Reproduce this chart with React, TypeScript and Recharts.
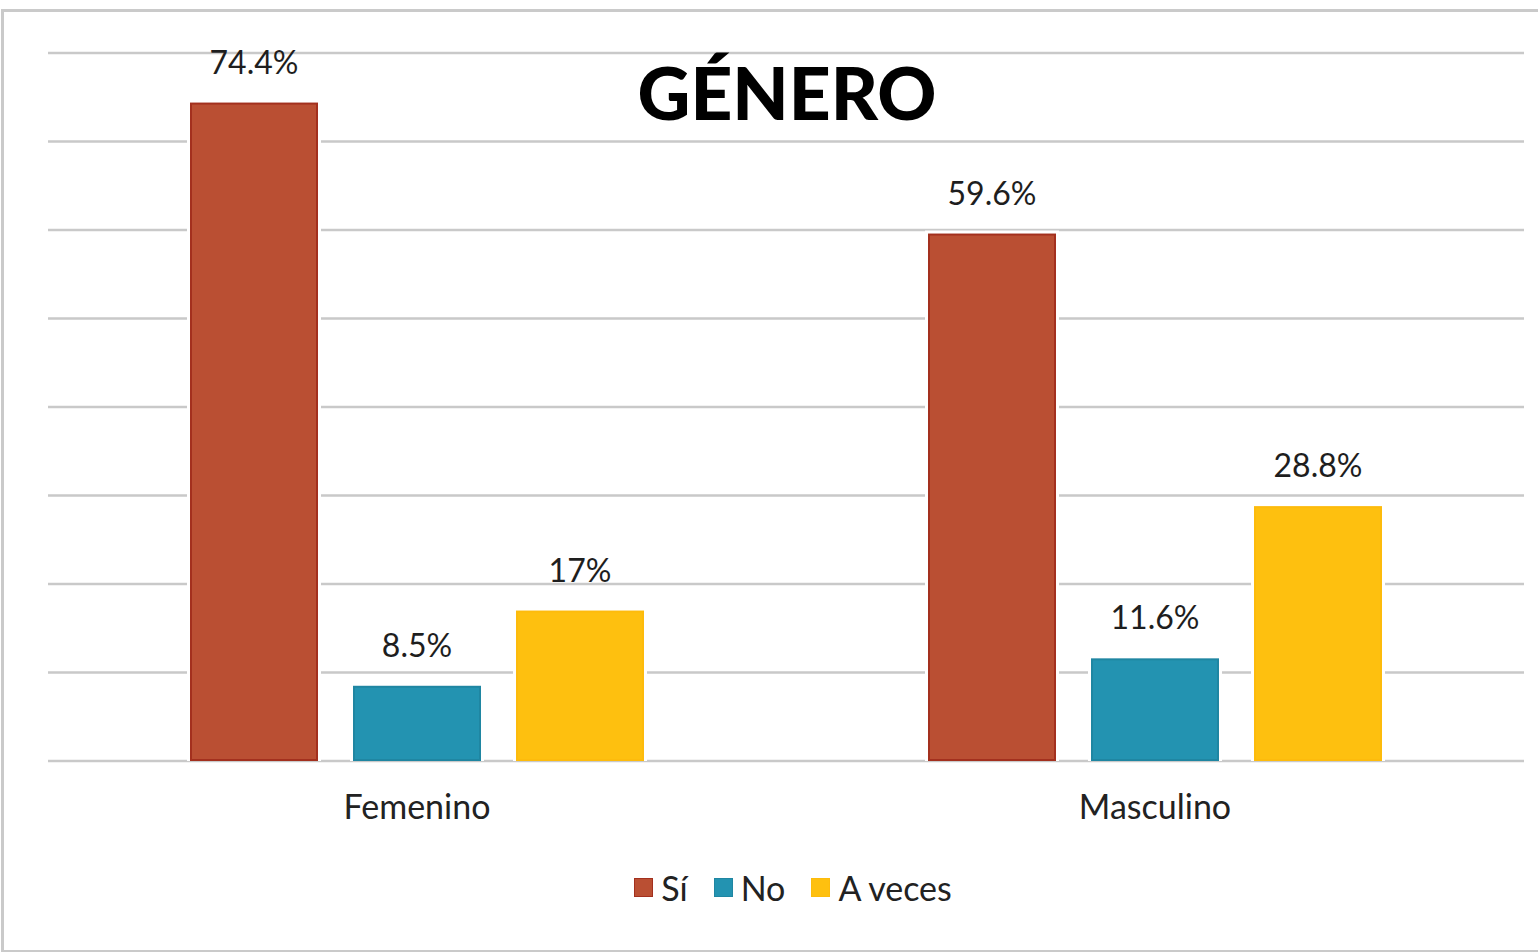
import { BarChart, Bar, XAxis, YAxis, CartesianGrid, Legend, LabelList } from "recharts";

const categories = ["Femenino", "Masculino"];
const si = [74.4, 59.6];
const no = [8.5, 11.6];
const aVeces = [17, 28.8];
const yTicks = [0, 10, 20, 30, 40, 50, 60, 70, 80];

const SERIES = [
  { key: "si", name: "Sí", fill: "#BA4F33", stroke: "#A3301E" },
  { key: "no", name: "No", fill: "#2393B1", stroke: "#1F86A2" },
  { key: "aVeces", name: "A veces", fill: "#FEC00F", stroke: "#FDBB0C" },
];

const data = categories.map((c, i) => ({
  name: c,
  si: si[i],
  no: no[i],
  aVeces: aVeces[i],
}));

const FONT = "Lato, 'Open Sans', sans-serif";

// white halo so the gridlines stop short of each bar, like the original
const haloBar = (fill: string, stroke: string) => (props: any) => {
  const { x, y, width, height } = props;
  return (
    <g>
      <rect x={x - 3} y={y - 3} width={width + 6} height={height + 3} fill="#fff" />
      <rect x={x + 1} y={y + 1} width={width - 2} height={height - 2} fill={fill} stroke={stroke} strokeWidth={2} />
    </g>
  );
};

const renderLegend = () => (
  <div
    style={{
      height: 40,
      display: "flex",
      justifyContent: "center",
      alignItems: "center",
      fontFamily: FONT,
      fontSize: 34,
      color: "#222",
    }}
  >
    {SERIES.map((s) => (
      <div key={s.key} style={{ display: "flex", alignItems: "center", margin: "0 13px" }}>
        <span
          style={{
            display: "inline-block",
            width: 19,
            height: 19,
            background: s.fill,
            border: `1px solid ${s.stroke}`,
            boxSizing: "border-box",
            marginRight: 8,
          }}
        />
        <span>{s.name}</span>
      </div>
    ))}
  </div>
);

export default function App() {
  return (
    <div style={{ position: "absolute", left: 0, top: 0, width: 1538, height: 952, background: "#fff", overflow: "hidden" }}>
      <div
        style={{
          position: "absolute",
          left: 1,
          top: 9,
          width: 1560,
          height: 938,
          border: "3px solid #cacaca",
        }}
      />
      <div style={{ position: "absolute", left: 0, top: 0 }}>
        <BarChart
          width={1538}
          height={952}
          data={data}
          margin={{ top: 53, right: 14, left: 48, bottom: 91 }}
          barSize={128}
          barGap={35}
        >
          <CartesianGrid vertical={false} stroke="#c9c9c9" strokeWidth={2.5} />
          <XAxis
            dataKey="name"
            axisLine={false}
            tickLine={false}
            height={60}
            tickMargin={28}
            tick={{ fill: "#222", fontSize: 34, fontFamily: FONT }}
          />
          <YAxis hide domain={[0, 80]} ticks={yTicks} />
          <Legend
            content={renderLegend}
            wrapperStyle={{ top: 867, bottom: "auto", left: 0, width: 1586 }}
          />
          {SERIES.map((s) => (
            <Bar
              key={s.key}
              dataKey={s.key}
              name={s.name}
              fill={s.fill}
              shape={haloBar(s.fill, s.stroke)}
              isAnimationActive={false}
            >
              <LabelList
                dataKey={s.key}
                position="top"
                offset={29}
                formatter={(v: any) => `${v}%`}
                style={{ fill: "#1e1e1e", fontSize: 32, fontFamily: FONT }}
              />
            </Bar>
          ))}
        </BarChart>
      </div>
      <div
        style={{
          position: "absolute",
          left: 0,
          width: 1574,
          top: 47,
          textAlign: "center",
          fontFamily: FONT,
          fontWeight: 900,
          fontSize: 73,
          color: "#000",
          lineHeight: "90px",
        }}
      >
        GÉNERO
      </div>
    </div>
  );
}
